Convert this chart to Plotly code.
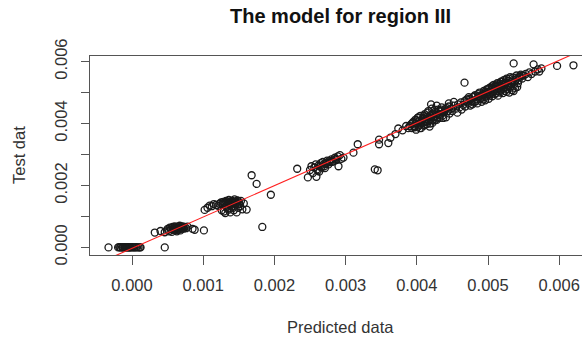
import plotly.graph_objects as go

# ---- data ----
pred_zero = [-0.00033, -0.000195, -0.00018, -0.000165, -0.00016, -0.00014, -0.00013, -0.000125,
             -0.00011, -0.0001, -0.00009, -0.000085, -0.00007, -0.00006, -0.000045, -0.00004,
             -0.00003, -0.000015, 0.0, 0.00001, 0.00003, 0.00004, 0.00006, 0.00007, 0.00009,
             0.00011, 0.00012, 0.00046]
test_zero = [0.0, 0.0, 0.00001, 0.0, 0.0, 0.00001, 0.0, 0.0, 0.0, 0.00001, 0.0, 0.0, 0.0, 0.00001,
             0.0, 0.0, 0.0, 0.0, 0.00001, 0.0, 0.0, 0.0, 0.00001, 0.0, 0.0, 0.0, 0.0, 0.0]

pred_low = [0.00032, 0.00040, 0.00046, 0.00049, 0.00050, 0.00052, 0.00053, 0.00055, 0.00056,
            0.00057, 0.00058, 0.00059, 0.00060, 0.00061, 0.00062, 0.00063, 0.00064, 0.00065,
            0.00066, 0.00067, 0.00068, 0.00069, 0.00070, 0.00071, 0.00072, 0.00074, 0.00076,
            0.00078, 0.00085, 0.00088, 0.00101,
            0.00058, 0.00061, 0.00064, 0.00067, 0.00070, 0.00063, 0.00055, 0.00073]
test_low = [0.00048, 0.00053, 0.00049, 0.00055, 0.00060, 0.00052, 0.00064, 0.00058, 0.00050,
            0.00066, 0.00061, 0.00055, 0.00068, 0.00059, 0.00063, 0.00052, 0.00067, 0.00058,
            0.00062, 0.00070, 0.00055, 0.00065, 0.00060, 0.00068, 0.00063, 0.00066, 0.00062,
            0.00067, 0.00060, 0.00057, 0.00055,
            0.00057, 0.00065, 0.00060, 0.00063, 0.00066, 0.00056, 0.00062, 0.00061]

pred_mid = [0.00102, 0.00106, 0.00109, 0.00112, 0.00115, 0.00118, 0.00121, 0.00123, 0.00125,
            0.00126, 0.00127, 0.00128, 0.00129, 0.00130, 0.00131, 0.00132, 0.00133, 0.00134,
            0.00135, 0.00136, 0.00137, 0.00138, 0.00139, 0.00140, 0.00141, 0.00142, 0.00143,
            0.00144, 0.00145, 0.00146, 0.00147, 0.00148, 0.00149, 0.00150, 0.00151, 0.00152,
            0.00153, 0.00155, 0.00157, 0.00161, 0.00168, 0.00175, 0.00195, 0.00183,
            0.00128, 0.00131, 0.00134, 0.00137, 0.00140, 0.00143, 0.00146, 0.00138, 0.00133,
            0.00149, 0.00142, 0.00136]
test_mid = [0.00121, 0.00128, 0.00135, 0.00133, 0.00140, 0.00137, 0.00134, 0.00141, 0.00145,
            0.00120, 0.00138, 0.00147, 0.00116, 0.00142, 0.00111, 0.00150, 0.00136, 0.00125,
            0.00145, 0.00153, 0.00140, 0.00113, 0.00148, 0.00132, 0.00150, 0.00143, 0.00120,
            0.00155, 0.00138, 0.00147, 0.00113, 0.00152, 0.00128, 0.00145, 0.00140, 0.00133,
            0.00150, 0.00123, 0.00142, 0.00122, 0.00233, 0.00205, 0.00170, 0.00066,
            0.00140, 0.00145, 0.00148, 0.00143, 0.00150, 0.00146, 0.00142, 0.00135, 0.00130,
            0.00150, 0.00128, 0.00122]

pred_upper = [0.00232, 0.00247, 0.00250, 0.00252, 0.00254, 0.00256, 0.00258, 0.00259, 0.00260,
              0.00262, 0.00263, 0.00265, 0.00266, 0.00268, 0.00270, 0.00272, 0.00274, 0.00276,
              0.00278, 0.00280, 0.00283, 0.00285, 0.00287, 0.00289, 0.00290, 0.00292, 0.00294,
              0.00297, 0.00311, 0.00317, 0.00341, 0.00345,
              0.00264, 0.00269, 0.00273, 0.00277, 0.00281, 0.00286, 0.00271, 0.00261]
test_upper = [0.00254, 0.00226, 0.00250, 0.00262, 0.00240, 0.00258, 0.00268, 0.00228, 0.00252,
              0.00265, 0.00245, 0.00272, 0.00258, 0.00276, 0.00262, 0.00270, 0.00280, 0.00268,
              0.00275, 0.00284, 0.00278, 0.00290, 0.00282, 0.00294, 0.00262, 0.00298, 0.00286,
              0.00290, 0.00306, 0.00333, 0.00252, 0.00249,
              0.00262, 0.00268, 0.00274, 0.00279, 0.00276, 0.00286, 0.00256, 0.00248]

pred_high = [0.00347, 0.00347, 0.00360, 0.00363, 0.00370, 0.00374, 0.00380, 0.00385, 0.00388,
             0.00392, 0.00393, 0.00395, 0.00396, 0.00398, 0.00399, 0.00400, 0.00401, 0.00402,
             0.00403, 0.00404, 0.00405, 0.00406, 0.00407, 0.00408, 0.00409, 0.00410, 0.00411,
             0.00412, 0.00413, 0.00414, 0.00415, 0.00416, 0.00417, 0.00418, 0.00419, 0.00420,
             0.00421, 0.00422, 0.00423, 0.00424, 0.00425, 0.00426, 0.00427, 0.00428, 0.00430,
             0.00431, 0.00432, 0.00434, 0.00435, 0.00436, 0.00438, 0.00440, 0.00441, 0.00443,
             0.00445, 0.00446, 0.00448, 0.00450, 0.00452, 0.00455, 0.00457, 0.00458, 0.00460,
             0.00462, 0.00463, 0.00465, 0.00467, 0.00467, 0.00468, 0.00470, 0.00472, 0.00474,
             0.00475, 0.00477, 0.00479, 0.00480, 0.00482, 0.00484, 0.00485, 0.00487, 0.00488,
             0.00490, 0.00491, 0.00493, 0.00494, 0.00495, 0.00496, 0.00497, 0.00498, 0.00499,
             0.00500, 0.00501, 0.00502, 0.00503, 0.00504, 0.00505, 0.00506, 0.00507, 0.00508,
             0.00509, 0.00510, 0.00511, 0.00512, 0.00513, 0.00514, 0.00515, 0.00516, 0.00517,
             0.00518, 0.00519, 0.00520, 0.00521, 0.00522, 0.00523, 0.00524, 0.00525, 0.00526,
             0.00527, 0.00528, 0.00529, 0.00530, 0.00531, 0.00532, 0.00533, 0.00534, 0.00535,
             0.00536, 0.00537, 0.00538, 0.00539, 0.00540, 0.00542, 0.00544, 0.00546, 0.00548,
             0.00550, 0.00553, 0.00556, 0.00558, 0.00561, 0.00564, 0.00566, 0.00570, 0.00572,
             0.00575, 0.00597, 0.00620]
test_high = [0.00348, 0.00333, 0.00337, 0.00354, 0.00366, 0.00384, 0.00378, 0.00392, 0.00385,
             0.00398, 0.00385, 0.00405, 0.00392, 0.00412, 0.00380, 0.00400, 0.00418, 0.00390,
             0.00408, 0.00396, 0.00425, 0.00385, 0.00410, 0.00402, 0.00418, 0.00393, 0.00430,
             0.00406, 0.00414, 0.00398, 0.00422, 0.00440, 0.00408, 0.00390, 0.00426, 0.00415,
             0.00448, 0.00402, 0.00432, 0.00420, 0.00410, 0.00438, 0.00425, 0.00412, 0.00445,
             0.00430, 0.00418, 0.00440, 0.00452, 0.00425, 0.00435, 0.00446, 0.00420, 0.00440,
             0.00455, 0.00432, 0.00448, 0.00440, 0.00458, 0.00448, 0.00435, 0.00462, 0.00452,
             0.00468, 0.00445, 0.00460, 0.00472, 0.00532, 0.00455, 0.00478, 0.00465, 0.00480,
             0.00458, 0.00472, 0.00485, 0.00468, 0.00492, 0.00478, 0.00465, 0.00488, 0.00500,
             0.00482, 0.00470, 0.00495, 0.00505, 0.00485, 0.00475, 0.00498, 0.00510, 0.00490,
             0.00502, 0.00480, 0.00515, 0.00495, 0.00508, 0.00520, 0.00488, 0.00502, 0.00525,
             0.00512, 0.00495, 0.00518, 0.00505, 0.00530, 0.00490, 0.00515, 0.00522, 0.00500,
             0.00535, 0.00510, 0.00528, 0.00498, 0.00540, 0.00518, 0.00505, 0.00532, 0.00545,
             0.00512, 0.00525, 0.00538, 0.00500, 0.00550, 0.00520, 0.00535, 0.00508, 0.00548,
             0.00594, 0.00528, 0.00515, 0.00542, 0.00555, 0.00530, 0.00550, 0.00558, 0.00545,
             0.00555, 0.00560, 0.00550, 0.00565, 0.00560, 0.00591, 0.00568, 0.00575, 0.00568,
             0.00578, 0.00586, 0.00588]

pred_dense = [0.00390, 0.00394, 0.00397, 0.00400, 0.00402, 0.00404, 0.00406, 0.00408, 0.00410,
              0.00411, 0.00413, 0.00415, 0.00417, 0.00419, 0.00421, 0.00423, 0.00425, 0.00427,
              0.00429, 0.00431, 0.00433, 0.00435, 0.00437, 0.00439, 0.00442, 0.00444,
              0.00420, 0.00428, 0.00445, 0.00452,
              0.00470, 0.00473, 0.00476, 0.00478, 0.00481, 0.00483, 0.00486, 0.00489, 0.00492,
              0.00494, 0.00496, 0.00498, 0.00500, 0.00502, 0.00504, 0.00506, 0.00508, 0.00510,
              0.00511, 0.00513, 0.00515, 0.00516, 0.00518, 0.00520, 0.00521, 0.00523, 0.00525,
              0.00526, 0.00528, 0.00530, 0.00531, 0.00533, 0.00535, 0.00536, 0.00538, 0.00540,
              0.00541, 0.00543, 0.00545, 0.00548]
test_dense = [0.00392, 0.00402, 0.00388, 0.00410, 0.00420, 0.00385, 0.00400, 0.00415, 0.00425,
              0.00395, 0.00405, 0.00435, 0.00420, 0.00400, 0.00430, 0.00412, 0.00445, 0.00432,
              0.00420, 0.00440, 0.00428, 0.00445, 0.00418, 0.00438, 0.00450, 0.00440,
              0.00462, 0.00458, 0.00465, 0.00470,
              0.00470, 0.00485, 0.00478, 0.00462, 0.00488, 0.00472, 0.00495, 0.00478, 0.00490,
              0.00478, 0.00502, 0.00495, 0.00512, 0.00490, 0.00500, 0.00515, 0.00508, 0.00522,
              0.00498, 0.00512, 0.00528, 0.00505, 0.00520, 0.00535, 0.00512, 0.00525, 0.00540,
              0.00502, 0.00530, 0.00545, 0.00515, 0.00528, 0.00540, 0.00505, 0.00535, 0.00548,
              0.00518, 0.00540, 0.00552, 0.00555]

predicted = pred_zero + pred_low + pred_mid + pred_upper + pred_high + pred_dense
test_data = test_zero + test_low + test_mid + test_upper + test_high + test_dense

fit_intercept = -0.00003
fit_slope = 1.012

x_ticks = [0.0, 0.001, 0.002, 0.003, 0.004, 0.005, 0.006]
x_tick_labels = ["0.000", "0.001", "0.002", "0.003", "0.004", "0.005", "0.006"]
y_ticks = [0.0, 0.001, 0.002, 0.003, 0.004, 0.005, 0.006]
y_tick_labels = ["0.000", "", "0.002", "", "0.004", "", "0.006"]

x_range = [-0.00059, 0.00632]
y_range = [-0.000245, 0.00618]

FONT = "Liberation Sans, Arial, sans-serif"
AXIS_COLOR = "#555555"

fig = go.Figure()
fig.add_trace(go.Scatter(
    x=predicted, y=test_data, mode="markers",
    marker=dict(symbol="circle-open", size=7, color="#1a1a1a", line=dict(width=1.3)),
    showlegend=False, hoverinfo="skip"))

line_x = [x_range[0] - 0.001, x_range[1] + 0.001]
line_y = [fit_intercept + fit_slope * v for v in line_x]
fig.add_trace(go.Scatter(x=line_x, y=line_y, mode="lines",
                         line=dict(color="#ff2020", width=1.1), showlegend=False,
                         hoverinfo="skip"))

fig.update_layout(
    template="none",
    width=582, height=339,
    margin=dict(l=90, r=0, t=56, b=84, autoexpand=False),
    paper_bgcolor="white", plot_bgcolor="white",
    font=dict(family=FONT, size=16, color="#333333"),
    xaxis=dict(range=x_range, tickvals=x_ticks, ticktext=x_tick_labels, automargin=False,
               showgrid=False, zeroline=False, showline=True, mirror=True,
               linecolor=AXIS_COLOR, linewidth=1.4, ticks="outside", ticklen=9,
               tickcolor=AXIS_COLOR, tickwidth=1.3, ticklabelstandoff=6,
               tickfont=dict(size=16.5, color="#333333")),
    yaxis=dict(range=y_range, tickvals=y_ticks, ticktext=y_tick_labels, automargin=False,
               showgrid=False, zeroline=False, showline=True, mirror=False,
               linecolor=AXIS_COLOR, linewidth=1.4, ticks="outside", ticklen=8,
               tickcolor=AXIS_COLOR, tickwidth=1.3, tickangle=-90, ticklabelstandoff=7,
               tickfont=dict(size=16.5, color="#333333")),
    annotations=[
        dict(text="<b>The model for region III</b>", xref="paper", yref="paper",
             x=(340 - 90) / 492, y=(255 - 16) / 199, xanchor="center", yanchor="middle",
             showarrow=False, font=dict(size=20, color="#111111", family=FONT)),
        dict(text="Predicted data", xref="paper", yref="paper",
             x=(340 - 90) / 492, y=(255 - 327) / 199, xanchor="center", yanchor="middle",
             showarrow=False, font=dict(size=16.5, color="#333333", family=FONT)),
        dict(text="Test dat", xref="paper", yref="paper", textangle=-90,
             x=(19 - 90) / 492, y=(255 - 155) / 199, xanchor="center", yanchor="middle",
             showarrow=False, font=dict(size=16.5, color="#333333", family=FONT)),
    ],
)

fig.write_html(
    "out.html",
    config={"displayModeBar": False},
    post_script="document.body.style.margin='0';document.body.style.padding='0';"
                "document.body.style.overflow='hidden';",
)
